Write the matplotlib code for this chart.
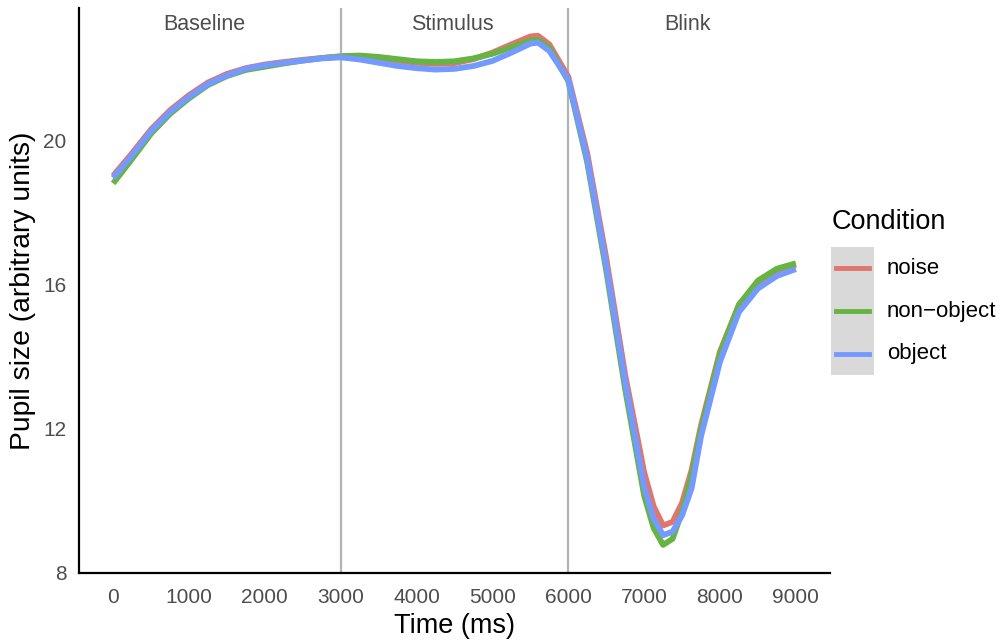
import matplotlib
matplotlib.use("Agg")
import matplotlib.pyplot as plt
from matplotlib.lines import Line2D
from matplotlib.patches import Rectangle

plt.rcParams['font.family'] = ['Liberation Sans', 'DejaVu Sans']

time_ms = [0, 250, 500, 750, 1000, 1250, 1500, 1750, 2000, 2250, 2500, 2750, 3000,
           3250, 3500, 3750, 4000, 4250, 4500, 4750, 5000, 5250, 5500, 5600, 5750,
           6000, 6250, 6500, 6750, 7000, 7125, 7250, 7375, 7500, 7625, 7750, 8000,
           8250, 8500, 8750, 9000]

noise = [19.03, 19.66, 20.32, 20.85, 21.27, 21.62, 21.86, 22.02, 22.12, 22.19, 22.25, 22.30, 22.34,
         22.35, 22.30, 22.23, 22.17, 22.14, 22.16, 22.27, 22.45, 22.68, 22.90, 22.92, 22.68,
         21.78, 19.65, 16.75, 13.50, 10.80, 9.85, 9.32, 9.42, 9.95, 10.85, 12.10, 14.15,
         15.45, 16.08, 16.40, 16.55]

non_object = [18.82, 19.50, 20.20, 20.75, 21.18, 21.55, 21.80, 21.97, 22.06, 22.15, 22.23, 22.30, 22.35,
              22.37, 22.33, 22.27, 22.21, 22.19, 22.21, 22.29, 22.42, 22.60, 22.79, 22.80, 22.58,
              21.66, 19.40, 16.40, 13.10, 10.15, 9.25, 8.78, 8.95, 9.70, 10.70, 12.00, 14.10,
              15.45, 16.12, 16.45, 16.60]

obj = [18.97, 19.60, 20.27, 20.80, 21.22, 21.58, 21.82, 22.00, 22.10, 22.17, 22.23, 22.29, 22.32,
       22.26, 22.17, 22.08, 22.02, 21.98, 22.00, 22.08, 22.22, 22.45, 22.70, 22.73, 22.50,
       21.70, 19.50, 16.55, 13.30, 10.40, 9.50, 9.05, 9.15, 9.60, 10.35, 11.80, 13.87,
       15.25, 15.90, 16.25, 16.44]

conditions = ['noise', 'non\u2212object', 'object']
series = [noise, non_object, obj]
colors = ['#E0766E', '#66B442', '#7499FF']

phase_labels = ['Baseline', 'Stimulus', 'Blink']
phase_label_x = [1200, 4470, 7575]
phase_bounds = [3000, 6000]

x_ticks = list(range(0, 9001, 1000))
y_ticks = [8, 12, 16, 20]

W, H = 1005, 641
fig = plt.figure(figsize=(W / 100, H / 100), dpi=100)
ax = fig.add_axes([79 / W, (H - 573) / H, (830 - 79) / W, (573 - 8) / H])

for xb in phase_bounds:
    ax.axvline(xb, color='#B3B3B3', lw=1.6, zorder=1)

for vals, c in zip(series, colors):
    ax.plot(time_ms, vals, color=c, lw=4.2, solid_joinstyle='round',
            solid_capstyle='butt', zorder=2)

for lab, xl in zip(phase_labels, phase_label_x):
    ax.text(xl, 23.22, lab, ha='center', va='center', fontsize=15.5, color='#4D4D4D')

ax.set_xlim(-450, 9450)
ax.set_ylim(8, 23.69)
ax.set_xticks(x_ticks)
ax.set_yticks(y_ticks)
ax.tick_params(length=0, labelsize=15, labelcolor='#4D4D4D')
ax.tick_params(axis='x', pad=11)
ax.tick_params(axis='y', pad=9)
for s in ['top', 'right']:
    ax.spines[s].set_visible(False)
for s in ['left', 'bottom']:
    ax.spines[s].set_linewidth(1.6)
    ax.spines[s].set_color('black')
ax.set_xlabel('Time (ms)', fontsize=19.5, labelpad=4)
ax.set_ylabel('Pupil size (arbitrary units)', fontsize=20.3, labelpad=5)

# legend
fig.text(832 / W, 1 - 222 / H, 'Condition', fontsize=19.5, ha='left', va='center')
fig.add_artist(Rectangle((831 / W, 1 - 375 / H), 43 / W, 128 / H,
                         transform=fig.transFigure, facecolor='#D9D9D9', edgecolor='none'))
key_y = [268, 311, 354]
for cond, c, ky in zip(conditions, colors, key_y):
    fig.add_artist(Line2D([836 / W, 869 / W], [1 - ky / H, 1 - ky / H],
                          transform=fig.transFigure, color=c, lw=3.5))
    fig.text(887 / W, 1 - ky / H, cond, fontsize=16, ha='left', va='center')

fig.savefig('out.png', dpi=100)
